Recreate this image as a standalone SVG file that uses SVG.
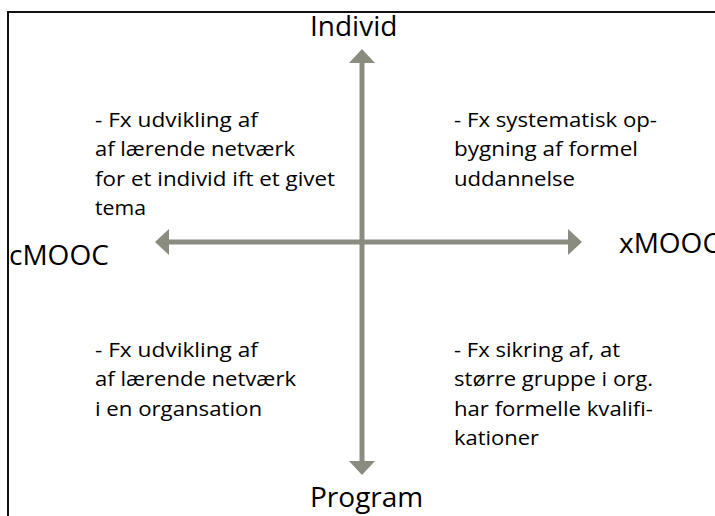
<svg xmlns="http://www.w3.org/2000/svg" width="715" height="516" viewBox="0 0 715 516">
  <defs>
    <style>
      .q { font-family: "Open Sans", "Noto Sans", sans-serif; font-size: 20.5px; fill: #000; }
      .lbl { font-family: "Open Sans", "Noto Sans", sans-serif; font-size: 28px; fill: #000; }
      .axis { stroke: #8b8c80; stroke-width: 5; fill: none; }
      .frame { stroke: #111; stroke-width: 2; fill: none; }
    </style>
    <marker id="head" viewBox="0 0 14 26" refX="1" refY="13" markerWidth="14" markerHeight="26" markerUnits="userSpaceOnUse" orient="auto">
      <path d="M0,0 L14,13 L0,26 Z" fill="#8b8c80"/>
    </marker>
  </defs>
  <rect width="715" height="516" fill="#ffffff"/>
  <path class="frame" d="M8,516 L8,12 L715,12"/>

  <g id="connectors">
    <line class="axis" x1="362" y1="242" x2="362" y2="62" marker-end="url(#head)"/>
    <line class="axis" x1="362" y1="242" x2="362" y2="462" marker-end="url(#head)"/>
    <line class="axis" x1="362" y1="242" x2="168" y2="242" marker-end="url(#head)"/>
    <line class="axis" x1="362" y1="242" x2="569" y2="242" marker-end="url(#head)"/>
  </g>

  <g id="individ"><text class="lbl" x="310" y="36">Individ</text></g>
  <g id="program"><text class="lbl" x="310" y="507">Program</text></g>
  <g id="cmooc"><text class="lbl" x="9" y="265">cMOOC</text></g>
  <g id="xmooc"><text class="lbl" x="619" y="253">xMOOC</text></g>

  <g id="q-top-left">
    <text class="q" x="95" y="126.5" textLength="163" lengthAdjust="spacingAndGlyphs">- Fx udvikling af</text>
    <text class="q" x="95" y="156" textLength="200" lengthAdjust="spacingAndGlyphs">af lærende netværk</text>
    <text class="q" x="95" y="185.5" textLength="240" lengthAdjust="spacingAndGlyphs">for et individ ift et givet</text>
    <text class="q" x="95" y="215" textLength="51" lengthAdjust="spacingAndGlyphs">tema</text>
  </g>
  <g id="q-top-right">
    <text class="q" x="454" y="126.5" textLength="203" lengthAdjust="spacingAndGlyphs">- Fx systematisk op-</text>
    <text class="q" x="454" y="156" textLength="184" lengthAdjust="spacingAndGlyphs">bygning af formel</text>
    <text class="q" x="454" y="185.5" textLength="121" lengthAdjust="spacingAndGlyphs">uddannelse</text>
  </g>
  <g id="q-bottom-left">
    <text class="q" x="95" y="356.5" textLength="163" lengthAdjust="spacingAndGlyphs">- Fx udvikling af</text>
    <text class="q" x="95" y="386" textLength="201" lengthAdjust="spacingAndGlyphs">af lærende netværk</text>
    <text class="q" x="95" y="415.5" textLength="167" lengthAdjust="spacingAndGlyphs">i en organsation</text>
  </g>
  <g id="q-bottom-right">
    <text class="q" x="454" y="356.5" textLength="166" lengthAdjust="spacingAndGlyphs">- Fx sikring af, at</text>
    <text class="q" x="454" y="386" textLength="199" lengthAdjust="spacingAndGlyphs">større gruppe i org.</text>
    <text class="q" x="454" y="415.5" textLength="199" lengthAdjust="spacingAndGlyphs">har formelle kvalifi-</text>
    <text class="q" x="454" y="445" textLength="85" lengthAdjust="spacingAndGlyphs">kationer</text>
  </g>
</svg>
